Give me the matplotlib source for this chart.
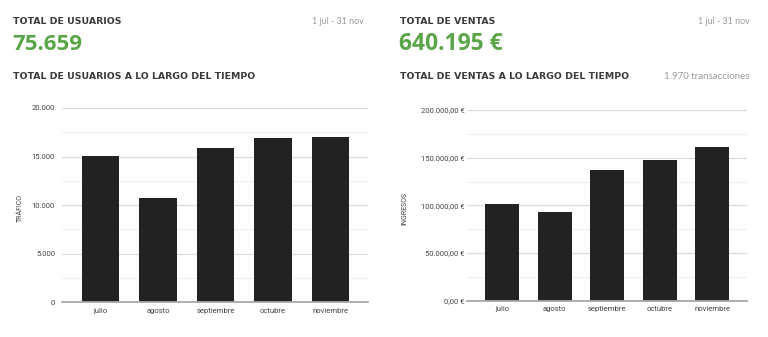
import matplotlib
matplotlib.use("Agg")
import matplotlib.pyplot as plt
from matplotlib.ticker import MultipleLocator, FuncFormatter

months = ["julio", "agosto", "septiembre", "octubre", "noviembre"]
usuarios = [15050, 10750, 15900, 16900, 17060]
ventas = [101500, 93000, 137300, 147400, 161000]
usuarios_ticks = [0, 5000, 10000, 15000, 20000]
ventas_ticks = [0, 50000, 100000, 150000, 200000]
total_usuarios = "75.659"
total_ventas = "640.195 €"
periodo = "1 jul - 31 nov"
transacciones = "1.970 transacciones"

W, H = 768, 337
fig = plt.figure(figsize=(W / 100, H / 100), dpi=100)
fig.patch.set_facecolor("white")

HEAD_FONT = ["DejaVu Sans"]
NUM_FONT = ["Open Sans", "DejaVu Sans"]
TICK_FONT = ["Roboto", "DejaVu Sans"]
SMALL_FONT = ["Lato", "DejaVu Sans"]
GREEN = "#5aa547"
DARK = "#3a3a3a"
GRAY = "#9a9a9a"


def px(x, y):
    return x / W, 1 - y / H


def fmt_int(v):
    return f"{int(round(v)):,}".replace(",", ".")


def fmt_eur(v):
    s = f"{v:,.2f}"
    s = s.replace(",", "X").replace(".", ",").replace("X", ".")
    return s + " €"


def draw(rect, values, ticks, minor, fmt, xlim, labelpad_y):
    ax = fig.add_axes(rect)
    x = range(len(months))
    ax.bar(x, values, width=0.65, color="#222222", zorder=3)
    ax.set_xlim(*xlim)
    ax.set_ylim(ticks[0], ticks[-1])
    ax.set_yticks(ticks)
    ax.yaxis.set_minor_locator(MultipleLocator(minor))
    ax.yaxis.set_major_formatter(FuncFormatter(lambda v, p: fmt(v)))
    ax.set_xticks(list(x))
    ax.set_xticklabels(months)
    ax.grid(axis="y", which="major", color="#dcdcdc", linewidth=0.9, zorder=0)
    ax.grid(axis="y", which="minor", color="#f0f0f0", linewidth=0.9, zorder=0)
    for s in ["top", "right", "left"]:
        ax.spines[s].set_visible(False)
    ax.spines["bottom"].set_color("#a8a8a8")
    ax.spines["bottom"].set_linewidth(1.3)
    ax.spines["bottom"].set_zorder(4)
    ax.tick_params(axis="both", which="both", length=0, labelsize=5.5, labelcolor="#444444")
    ax.tick_params(axis="y", pad=labelpad_y)
    ax.tick_params(axis="x", pad=4)
    for lab in ax.get_xticklabels() + ax.get_yticklabels():
        lab.set_fontfamily(TICK_FONT)
    ax.set_facecolor("white")
    return ax


# left axes: plot area x 62..368, y 108..302.3
ax1 = draw([62 / W, (H - 302.3) / H, 306 / W, 194.3 / H], usuarios, usuarios_ticks, 2500,
           fmt_int, (-0.67, 4.65), 5)
# right axes: plot area x 467.3..746.7, y 110..300.7
ax2 = draw([467.3 / W, (H - 300.7) / H, 279.4 / W, 190.7 / H], ventas, ventas_ticks, 25000,
           fmt_eur, (-0.67, 4.66), 2)

fig.text(*px(20, 208), "TRÁFICO", rotation=90, ha="center", va="center",
         fontsize=5, color="#444444", family=TICK_FONT)
fig.text(*px(405, 208), "INGRESOS", rotation=90, ha="center", va="center",
         fontsize=5, color="#444444", family=TICK_FONT)

# headers
fig.text(*px(13, 22), "TOTAL DE USUARIOS", ha="left", va="center", fontsize=6.75,
         fontweight="bold", color=DARK, family=HEAD_FONT)
fig.text(*px(12, 44), total_usuarios, ha="left", va="center",
         fontsize=16, fontweight="bold", color=GREEN, family=NUM_FONT)
fig.text(*px(13, 76.5), "TOTAL DE USUARIOS A LO LARGO DEL TIEMPO", ha="left", va="center",
         fontsize=6.75, fontweight="bold", color=DARK, family=HEAD_FONT)
fig.text(*px(364, 22), periodo, ha="right", va="center", fontsize=6.4,
         color=GRAY, family=SMALL_FONT)

fig.text(*px(400, 22), "TOTAL DE VENTAS", ha="left", va="center", fontsize=6.75,
         fontweight="bold", color=DARK, family=HEAD_FONT)
fig.text(*px(399, 44), total_ventas, ha="left", va="center",
         fontsize=16.5, fontweight="bold", color=GREEN, family=NUM_FONT)
fig.text(*px(400, 76.5), "TOTAL DE VENTAS A LO LARGO DEL TIEMPO", ha="left", va="center",
         fontsize=6.75, fontweight="bold", color=DARK, family=HEAD_FONT)
fig.text(*px(750, 22), periodo, ha="right", va="center", fontsize=6.4,
         color=GRAY, family=SMALL_FONT)
fig.text(*px(750, 76.5), transacciones, ha="right", va="center", fontsize=7,
         color=GRAY, family=SMALL_FONT)

fig.savefig("out.png", dpi=100, facecolor="white")
